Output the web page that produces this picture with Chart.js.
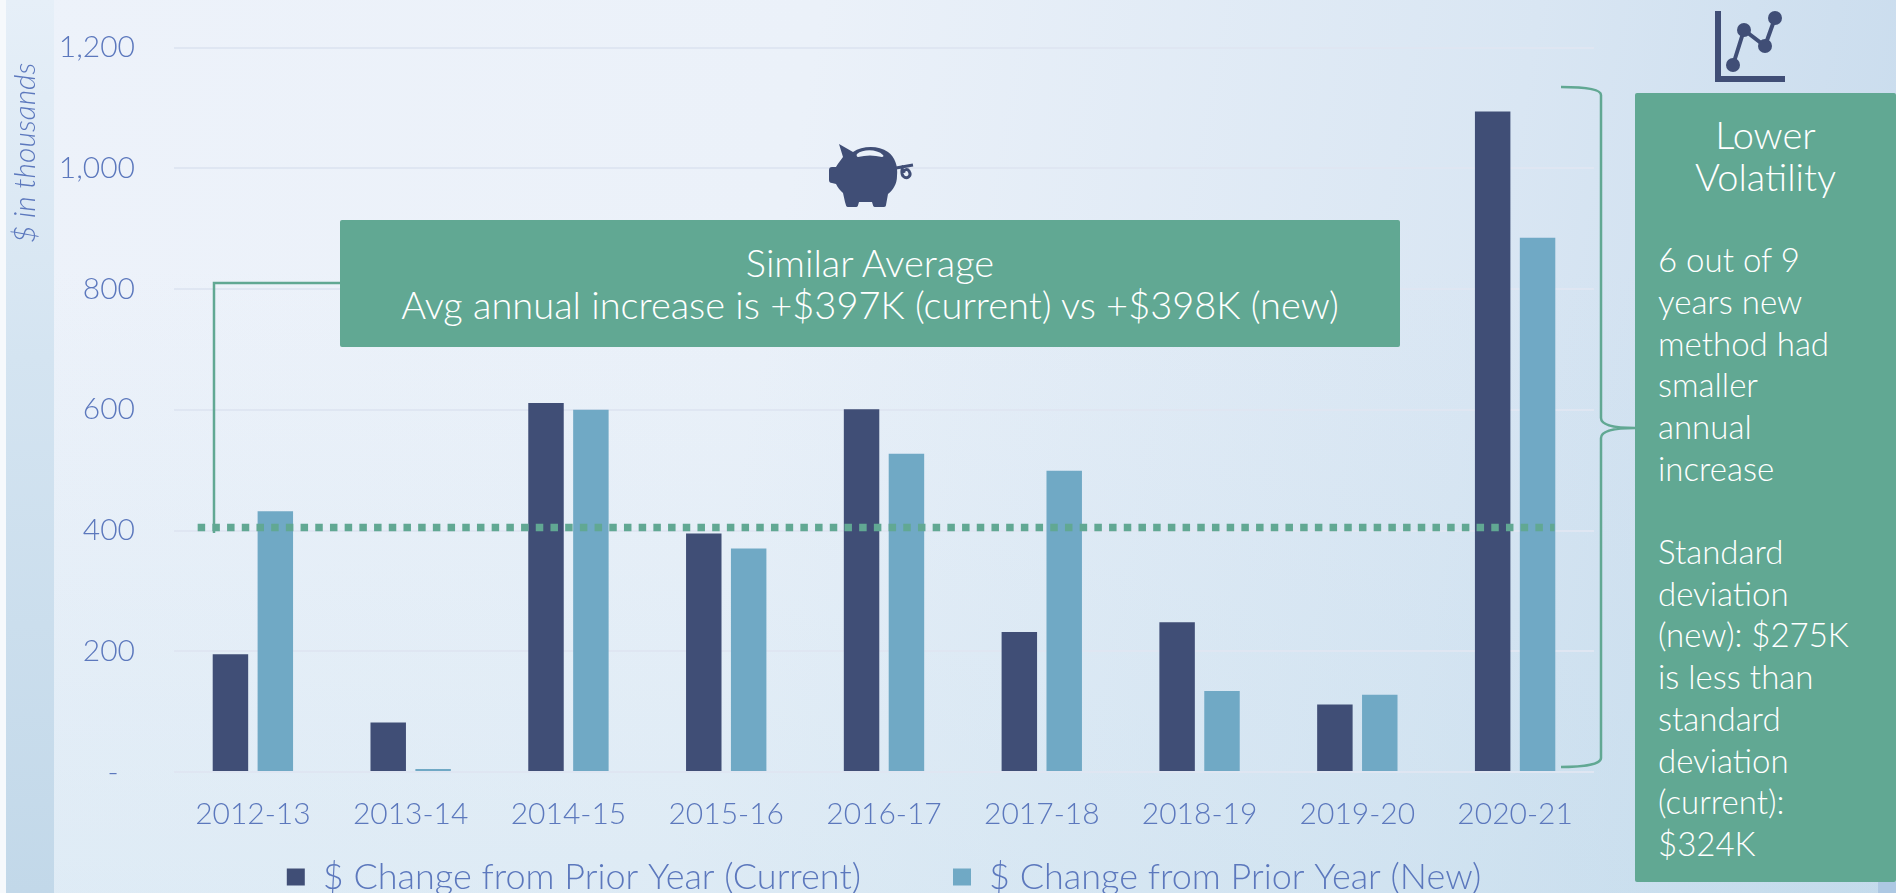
<!DOCTYPE html>
<html>
<head>
<meta charset="utf-8">
<title>Change from Prior Year</title>
<script src="https://cdn.jsdelivr.net/npm/chart.js@4"></script>
<style>
  html, body { margin: 0; padding: 0; width: 1896px; height: 893px; overflow: hidden; background: #f4f8fc; }
  .page { position: absolute; left: 0; top: 0; width: 1896px; height: 893px; overflow: hidden;
    background:
      linear-gradient(180deg, rgba(190,220,235,0) 30%, rgba(190,220,235,0.3) 100%),
      linear-gradient(100deg, #edf2fa 0%, #ebf1f9 40%, #d9e6f3 75%, #c6daec 100%); }
  .strip { position: absolute; left: 6px; top: 0; width: 48px; height: 893px;
    background: linear-gradient(180deg, #e6eff8 0%, #d4e4f1 40%, #c2d8e9 100%); }
  .edge { position: absolute; left: 0; top: 0; width: 6px; height: 893px; background: #f6f9fc; }
  .corner { position: absolute; left: 1878px; top: 882px; width: 18px; height: 11px; background: #adc8e3; }
  canvas { position: absolute; left: 0; top: 0; }
  svg { position: absolute; left: 0; top: 0; }
  .box { position: absolute; background: #61a893; color: #fff; border-radius: 2px;
    font-family: Lato, sans-serif; font-weight: 300; }
  #avgBox { left: 340px; top: 220px; width: 1060px; height: 127px; text-align: center;
    font-size: 38px; line-height: 42px; padding-top: 21px; box-sizing: border-box; }
  #volBox { left: 1635px; top: 93px; width: 261px; height: 789px;
    font-size: 33px; line-height: 41.7px; padding-top: 21px; padding-left: 23px; box-sizing: border-box; }
  #volBox .head { display: block; text-align: center; margin-left: -23px; font-size: 38px; }
</style>
</head>
<body>
<div class="page">
  <div class="edge"></div>
  <div class="strip"></div>
  <div class="corner"></div>
  <canvas id="chart" width="1896" height="905"></canvas>
  <svg width="1896" height="893" viewBox="0 0 1896 893">
    <!-- leader from the average box down to the dotted line -->
    <path d="M340 283 H214 V533" fill="none" stroke="#61a893" stroke-width="2.5"/>
    <!-- bracket -->
    <path d="M1561 87 C1585 87 1601 89 1601 95 V418 C1601 425 1612 428 1635 428 C1612 428 1601 431 1601 438 V758 C1601 764 1585 767 1561 767"
      fill="none" stroke="#61a893" stroke-width="2.5"/>
    <!-- piggy bank -->
    <path fill="#404e76" d="M839 144 L853 152 C862 146 878 145 888 152 C895 157 898 166 897 176 C897 184 893 190 888 194 L886 205 C886 207 884 207 883 207 L875 207 C873 207 873 205 872 202 L859 202 C858 205 858 207 856 207 L848 207 C846 207 846 205 845 202 L843 193 C840 190 838 188 836 184 L832 183 C830 183 829 182 829 180 L829 170 C829 168 830 167 832 167 L836 167 C838 163 841 160 843 157 Z"/>
    <path fill="#e9f0f9" d="M857 154 C863 149 877 149 883 155 C884 156 883 157 882 157 C874 155 866 155 858 157 C857 157 856 155 857 154 Z"/>
    <path fill="none" stroke="#404e76" stroke-width="3" d="M896 168 L913 165 M902 167 C904 165 900 172 903 176 C907 180 912 176 909 171 C907 168 903 170 904 173"/>
    <!-- line chart icon -->
    <path d="M1718 11 V79 H1785" fill="none" stroke="#404e76" stroke-width="6"/>
    <path d="M1733 65 L1744 30 L1765 46 L1775 18" fill="none" stroke="#404e76" stroke-width="4"/>
    <circle cx="1733" cy="65" r="7" fill="#404e76"/>
    <circle cx="1744" cy="30" r="7" fill="#404e76"/>
    <circle cx="1765" cy="46" r="7" fill="#404e76"/>
    <circle cx="1775" cy="18" r="7" fill="#404e76"/>
  </svg>
  <div class="box" id="avgBox">Similar Average<br>Avg annual increase is +$397K (current) vs +$398K (new)</div>
  <div class="box" id="volBox"><span class="head">Lower<br>Volatility</span><br>6 out of 9<br>years new<br>method had<br>smaller<br>annual<br>increase<br><br>Standard<br>deviation<br>(new): $275K<br>is less than<br>standard<br>deviation<br>(current):<br>$324K</div>
</div>
<script>
const categories = ["2012-13", "2013-14", "2014-15", "2015-16", "2016-17", "2017-18", "2018-19", "2019-20", "2020-21"];
const currentValues = [195, 82, 611, 395, 601, 232, 248, 112, 1094];
const newValues = [432, 5, 600, 370, 527, 499, 134, 128, 885];
const avgValue = 405;
// ends of the dotted line, in category index units
const avgLineFrom = -0.35;
const avgLineTo = 8.25;
const legendNames = ["$ Change from Prior Year (Current)", "$ Change from Prior Year (New)"];

const navy = "#404e76";
const sky = "#70a9c5";
const green = "#61a893";
const textBlue = "#5c78bd";
const gridColor = "#dfe6f2";
const labelFont = { family: "Lato", size: 30, weight: "300" };

// Dotted average line, drawn on top of the bars
const avgLinePlugin = {
  id: "avgLine",
  afterDatasetsDraw(chart) {
    const { ctx, scales } = chart;
    const y = scales.y.getPixelForValue(avgValue);
    ctx.save();
    ctx.strokeStyle = green;
    ctx.lineWidth = 7.5;
    ctx.setLineDash([7.5, 7.2]);
    ctx.beginPath();
    ctx.moveTo(scales.x.getPixelForValue(avgLineFrom), y);
    ctx.lineTo(scales.x.getPixelForValue(avgLineTo), y);
    ctx.stroke();
    ctx.restore();
  },
};

new Chart(document.getElementById("chart"), {
  type: "bar",
  plugins: [avgLinePlugin],
  data: {
    labels: categories,
    datasets: [
      { label: legendNames[0], data: currentValues, backgroundColor: navy,
        categoryPercentage: 0.569, barPercentage: 0.79 },
      { label: legendNames[1], data: newValues, backgroundColor: sky,
        categoryPercentage: 0.569, barPercentage: 0.79 },
    ],
  },
  options: {
    responsive: false,
    animation: false,
    layout: { padding: { left: 0, right: 302, top: 47.5, bottom: 0 } },
    plugins: {
      tooltip: { enabled: false },
      legend: {
        position: "bottom",
        fullSize: false,
        labels: {
          color: textBlue,
          font: { family: "Lato", size: 36, weight: "300" },
          boxWidth: 18,
          boxHeight: 17,
          padding: 4,
          generateLabels: (chart) => {
            const items = Chart.defaults.plugins.legend.labels.generateLabels(chart);
            // gap between the two entries; legend padding would also grow its height
            items[0].text += "\u00a0".repeat(9);
            return items;
          },
        },
      },
    },
    scales: {
      x: {
        grid: { display: false },
        border: { display: false },
        ticks: { color: textBlue, font: labelFont, padding: 16, maxRotation: 0, autoSkip: false },
        afterFit: (scale) => { scale.height = 83; },
      },
      y: {
        min: 0,
        max: 1200,
        border: { display: false },
        grid: { color: gridColor, lineWidth: 2, drawTicks: false },
        ticks: {
          stepSize: 200,
          color: textBlue,
          font: labelFont,
          padding: 39,
          callback: (v) => (v === 0 ? "-\u00a0\u00a0" : v.toLocaleString("en-US")),
        },
        title: {
          display: true,
          text: "$ in thousands\u00a0\u00a0",
          align: "end",
          color: textBlue,
          font: { family: "Lato", size: 30, style: "italic", weight: "300" },
          padding: { top: 7, bottom: 0 },
        },
        afterFit: (scale) => {
          scale.width = 174;
          // tick padding would otherwise push the plot top down
          scale.paddingTop = 0;
        },
      },
    },
  },
});
</script>
</body>
</html>
